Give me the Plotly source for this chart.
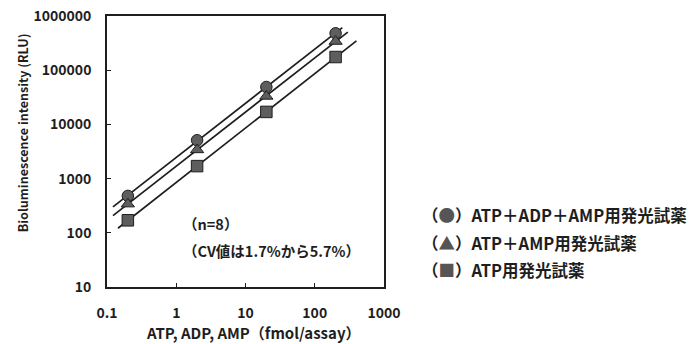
import numpy as np
import plotly.graph_objects as go

# ---- data ----
conc = [0.2, 2, 20, 200]  # fmol/assay
series_names = ["ATP＋ADP＋AMP用発光試薬", "ATP＋AMP用発光試薬", "ATP用発光試薬"]
rlu_circle = [480, 5100, 49000, 480000]
rlu_triangle = [340, 3400, 33000, 340000]
rlu_square = [170, 1700, 17000, 175000]
fit_x_start = [0.122, 0.122, 0.144]
fit_x_end = [250, 300, 400]
x_tickvals = [0.1, 1, 10, 100, 1000]
x_ticktext = ["0.1", "1", "10", "100", "1000"]
y_tickvals = [10, 100, 1000, 10000, 100000, 1000000]
y_ticktext = ["10", "100", "1000", "10000", "100000", "1000000"]
notes = ["（n=8）", "（CV値は1.7%から5.7%）"]

FONT = "Noto Sans CJK JP"
INK = "#1e1e1e"
symbols = ["circle", "triangle-up", "square"]
glyphs = ["●", "▲", "■"]
all_series = [rlu_circle, rlu_triangle, rlu_square]

fig = go.Figure()
for i, ys in enumerate(all_series):
    lx = np.log10(conc)
    ly = np.log10(ys)
    b, a = np.polyfit(lx, ly, 1)
    fx = np.array([fit_x_start[i], fit_x_end[i]])
    fy = 10 ** (a + b * np.log10(fx))
    fig.add_trace(go.Scatter(x=fx, y=fy, mode="lines",
                             line=dict(color=INK, width=1.7),
                             showlegend=False, hoverinfo="skip"))
    fig.add_trace(go.Scatter(x=conc, y=ys, mode="markers", name=series_names[i],
                             marker=dict(symbol=symbols[i], size=11.5, color="#5e5e5e",
                                         line=dict(color=INK, width=1)),
                             showlegend=False))

axis_common = dict(showline=True, linecolor=INK, linewidth=1.6, mirror=True,
                   ticks="inside", ticklen=4, tickcolor=INK, showgrid=False,
                   zeroline=False, automargin=False, ticklabeloverflow="allow",
                   tickfont=dict(family=FONT, size=14, color=INK, weight=700))
fig.update_xaxes(type="log", range=[-1, 3], tickvals=x_tickvals, ticktext=x_ticktext,
                 ticklabelstandoff=12, **axis_common)
fig.update_yaxes(type="log", range=[1, 6], tickvals=y_tickvals, ticktext=y_ticktext,
                 ticklabelstandoff=11, **axis_common)

ann = []
ann.append(dict(text="Bioluminescence intensity (RLU)", xref="paper", yref="paper",
                x=-0.307, y=0.571, xanchor="center", yanchor="middle",
                textangle=-90, showarrow=False,
                font=dict(family=FONT, size=12.5, color=INK, weight=700)))
ann.append(dict(text="ATP, ADP, AMP（fmol/assay）", xref="paper", yref="paper",
                x=0.53, y=-0.168, xanchor="center", yanchor="middle", showarrow=False,
                font=dict(family=FONT, size=15, color=INK, weight=700)))
for j, t in enumerate(notes):
    ann.append(dict(text=t, xref="paper", yref="paper", x=0.266, y=[0.234, 0.136][j],
                    xanchor="left", yanchor="middle", showarrow=False,
                    font=dict(family=FONT, size=14.5, color=INK, weight=700)))
for i, name in enumerate(series_names):
    ann.append(dict(text="（<span style='color:#555555'>" + glyphs[i] + "</span>）" + name,
                    xref="paper", yref="paper", x=1.130, y=[0.264, 0.161, 0.062][i],
                    xanchor="left", yanchor="middle", showarrow=False,
                    font=dict(family=FONT, size=16.5, color=INK, weight=700)))

# page body adds an 8px offset, so the plot box is placed 8px up/left in figure coords
fig.update_layout(width=698, height=344,
                  margin=dict(l=99, r=322, t=8, b=65, autoexpand=False),
                  paper_bgcolor="white", plot_bgcolor="white", annotations=ann,
                  font=dict(family=FONT))
fig.write_html("out.html")
